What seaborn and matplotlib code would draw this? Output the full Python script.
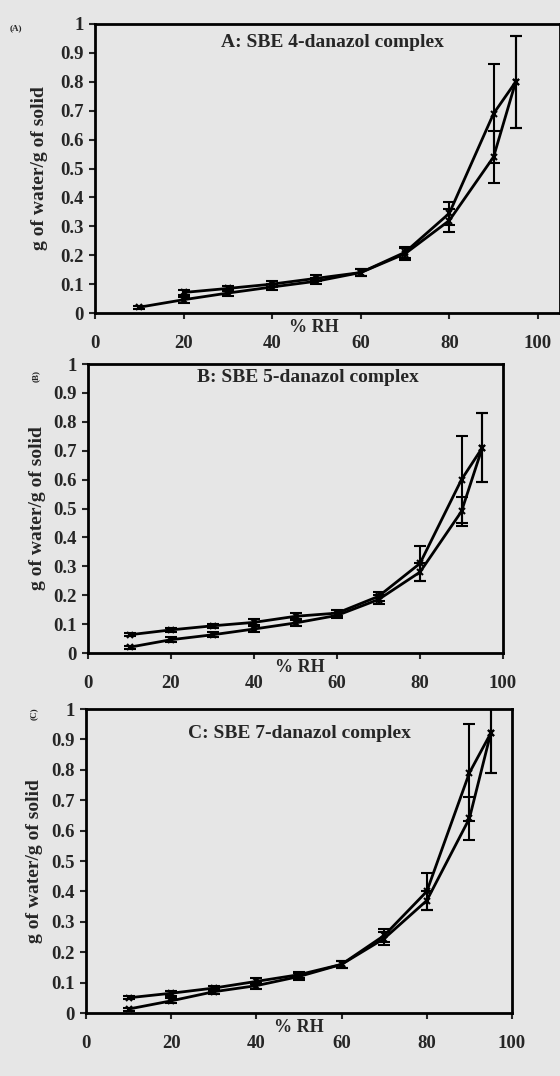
import matplotlib

matplotlib.use("Agg")

import matplotlib.pyplot as plt
import pandas as pd
import seaborn as sns

# relative humidity steps (%)
rh_up = [10, 20, 30, 40, 50, 60, 70, 80, 90, 95]
rh_down = [95, 90, 80, 70, 60, 50, 40, 30, 20, 10]

# A: SBE 4-danazol complex
a_ads = [0.02, 0.046, 0.069, 0.09, 0.11, 0.14, 0.205, 0.32, 0.54, 0.80]
a_ads_err = [0.005, 0.01, 0.01, 0.01, 0.01, 0.012, 0.02, 0.04, 0.09, 0.16]
a_des = [0.80, 0.69, 0.345, 0.21, 0.14, 0.12, 0.10, 0.085, 0.071]
a_des_err = [0.16, 0.17, 0.04, 0.02, 0.012, 0.01, 0.01, 0.01, 0.01]

# B: SBE 5-danazol complex
b_ads = [0.02, 0.046, 0.063, 0.083, 0.104, 0.13, 0.185, 0.28, 0.49, 0.71]
b_ads_err = [0.005, 0.008, 0.008, 0.01, 0.01, 0.01, 0.015, 0.03, 0.05, 0.12]
b_des = [0.71, 0.60, 0.31, 0.196, 0.138, 0.127, 0.106, 0.094, 0.08, 0.063]
b_des_err = [0.12, 0.15, 0.06, 0.015, 0.01, 0.01, 0.01, 0.008, 0.008, 0.005]

# C: SBE 7-danazol complex
c_ads = [0.013, 0.04, 0.07, 0.09, 0.12, 0.16, 0.245, 0.37, 0.64, 0.92]
c_ads_err = [0.005, 0.008, 0.008, 0.01, 0.01, 0.012, 0.02, 0.03, 0.07, 0.13]
c_des = [0.92, 0.79, 0.40, 0.255, 0.16, 0.126, 0.104, 0.082, 0.065, 0.05]
c_des_err = [0.13, 0.16, 0.06, 0.02, 0.012, 0.01, 0.01, 0.008, 0.008, 0.005]

titles = ["A: SBE 4-danazol complex", "B: SBE 5-danazol complex", "C: SBE 7-danazol complex"]
tags = ["(A)", "(B)", "(C)"]

BG = "#e6e6e6"
sns.set_style("ticks")
plt.rcParams["font.family"] = ["Liberation Serif", "DejaVu Serif"]
plt.rcParams["font.weight"] = "bold"

fig = plt.figure(figsize=(5.6, 10.76), dpi=100, facecolor=BG)

panels = [
    # rect, xmax, ads, ads_err, des, des_err, title pos, tag pos, tag rotation, xlabel x
    ([95 / 560, 1 - 313 / 1076, 465 / 560, 289 / 1076], 105,
     a_ads, a_ads_err, a_des, a_des_err, (0.51, 0.935), (16 / 560, 1 - 28 / 1076), 0, 0.47),
    ([88 / 560, 1 - 653 / 1076, 415 / 560, 289 / 1076], 100,
     b_ads, b_ads_err, b_des, b_des_err, (0.53, 0.955), (36 / 560, 1 - 376 / 1076), 90, 0.51),
    ([86 / 560, 1 - 1013 / 1076, 426 / 560, 304 / 1076], 100,
     c_ads, c_ads_err, c_des, c_des_err, (0.50, 0.92), (34 / 560, 1 - 714 / 1076), 90, 0.50),
]

for i, (rect, xmax, ads, ads_err, des, des_err, tpos, tagpos, tagrot, xlx) in enumerate(panels):
    ax = fig.add_axes(rect, facecolor=BG)
    up = pd.DataFrame({"rh": rh_up[: len(ads)], "w": ads, "err": ads_err})
    down = pd.DataFrame({"rh": rh_down[: len(des)], "w": des, "err": des_err})

    for df in (up, down):
        sns.lineplot(data=df, x="rh", y="w", ax=ax, color="black", lw=2.0,
                     marker="x", markersize=5, mew=1.5, markeredgecolor="black",
                     sort=False, estimator=None)
        ax.errorbar(df["rh"], df["w"], yerr=df["err"], fmt="none", ecolor="black",
                    elinewidth=1.5, capsize=4, capthick=1.5)

    ax.set_xlim(0, xmax)
    ax.set_ylim(0, 1)
    ax.set_xticks([0, 20, 40, 60, 80, 100])
    ax.set_yticks([0, 0.1, 0.2, 0.3, 0.4, 0.5, 0.6, 0.7, 0.8, 0.9, 1])
    ax.set_yticklabels(["0", "0.1", "0.2", "0.3", "0.4", "0.5", "0.6", "0.7", "0.8", "0.9", "1"])
    for sp in ax.spines.values():
        sp.set_visible(True)
        sp.set_linewidth(2.0)
        sp.set_color("black")
    ax.tick_params(axis="both", direction="out", length=4, width=1.5, labelsize=13.5)
    ax.tick_params(axis="x", pad=12)
    ax.tick_params(axis="y", pad=4)

    ax.set_xlabel("% RH", fontsize=13, fontweight="bold")
    ax.xaxis.set_label_coords(xlx, -0.02)
    ax.set_ylabel("g of water/g of solid", fontsize=14, fontweight="bold")
    ax.yaxis.set_label_coords(-0.1, 0.5)

    ax.text(tpos[0], tpos[1], titles[i], transform=ax.transAxes, ha="center", va="center",
            fontsize=14, fontweight="bold")
    fig.text(tagpos[0], tagpos[1], tags[i], fontsize=6.5, fontweight="bold",
             ha="center", va="center", rotation=tagrot)

fig.savefig("out.png", dpi=100, facecolor=BG)
